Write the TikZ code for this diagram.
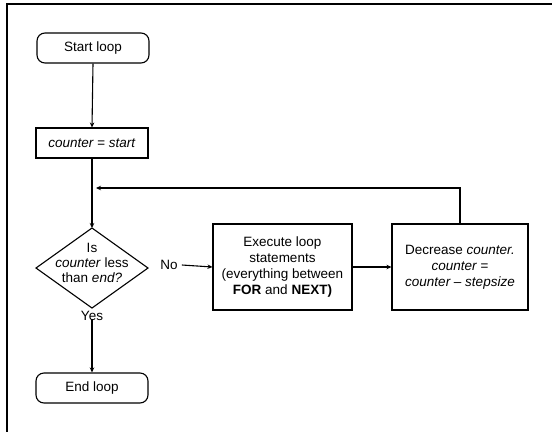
\documentclass[tikz,border=0pt]{standalone}
\usepackage{fontspec}
\setmainfont{Liberation Sans}
\usetikzlibrary{arrows.meta}
\begin{document}
\begin{tikzpicture}[x=1pt,y=-1pt,
  every node/.style={font=\fontsize{13.5}{16}\selectfont},
  box/.style={draw,line width=1.1pt,inner sep=0pt,align=center},
  term/.style={box,rounded corners=8pt,minimum width=112pt,minimum height=30pt},
  proc/.style={box,minimum width=112pt,minimum height=30pt},
  bigbox/.style={box,minimum height=86pt},
  lbl/.style={inner sep=1pt},
  conn/.style={line width=1.1pt,-{Stealth[length=5pt,width=4.5pt]}},
  frame/.style={line width=1.8pt}]
\useasboundingbox (0,0) rectangle (552,432);
% frame
\draw[frame] (552,4) -- (7,4) -- (7,432);
% nodes
\node[term] (start) at (93,48) {Start loop};
\node[proc] (init) at (92,143) {\textit{counter = start}};
\coordinate (dtop) at (92,228);
\coordinate (dright) at (148,268);
\coordinate (dbot) at (92,308);
\coordinate (dleft) at (36,268);
\draw[line width=1.1pt] (dtop) -- (dright) -- (dbot) -- (dleft) -- cycle;
\node[align=center,inner sep=0pt,font=\fontsize{13.5}{15}\selectfont] (dtext) at (92,263) {Is\\\textit{counter} less\\than \textit{end?}};
\node[lbl] (no) at (169,265) {No};
\node[lbl] (yes) at (92,316) {Yes};
\node[bigbox,minimum width=139pt] (exec) at (282.5,267) {Execute loop\\statements\\(everything between\\\textbf{FOR} and \textbf{NEXT)}};
\node[bigbox,minimum width=136pt] (decr) at (460,267) {Decrease \textit{counter.}\\\textit{counter =}\\\textit{counter -- stepsize}};
\node[term] (end) at (92,388) {End loop};
\coordinate (fb) at (92,188);
% connectors
\draw[conn] (start.south) -- (init.north);
\draw[conn] (init.south) -- (dtop);
\draw[conn] (no.east) ++(3pt,0) -- (exec.west);
\draw[conn] (yes.south) ++(0,3pt) -- (end.north);
\draw[conn] (exec.east) -- (decr.west);
\draw[conn,shorten >=4pt] (decr.north) |- (fb);
\end{tikzpicture}
\end{document}
